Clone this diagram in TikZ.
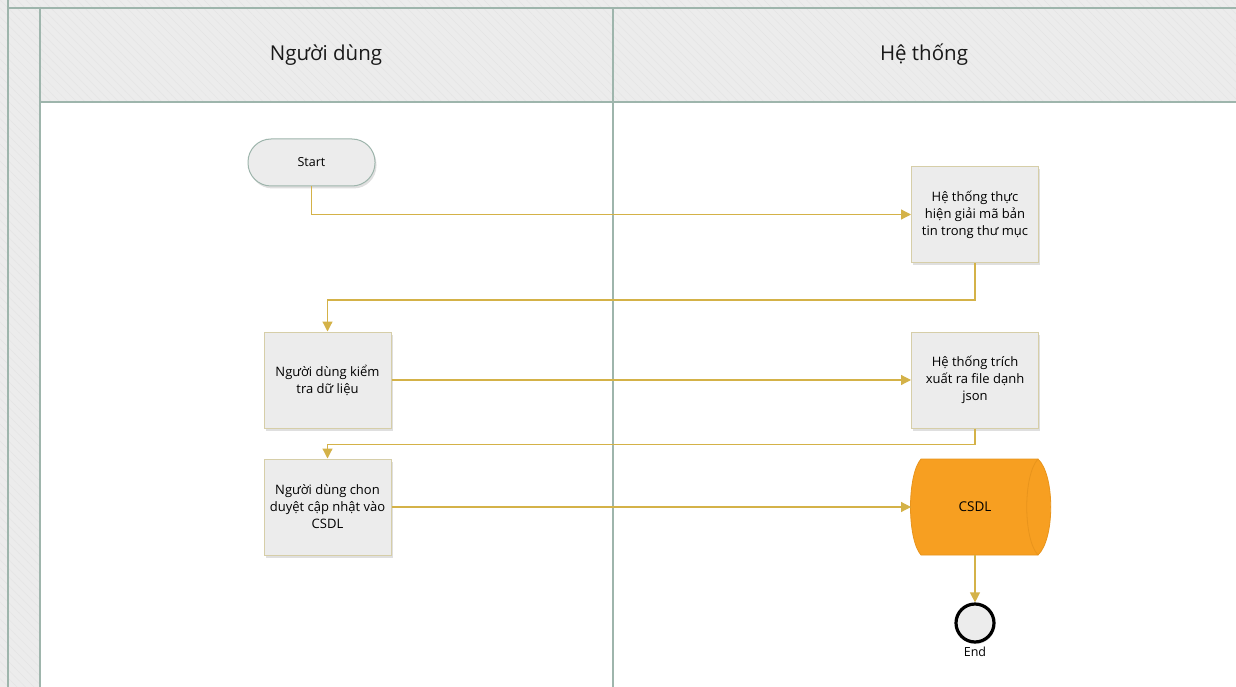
\documentclass[tikz,border=0pt]{standalone}
\usepackage{fontspec}
\setmainfont{Open Sans}
\usetikzlibrary{arrows.meta,shadows,patterns.meta}
\definecolor{poolline}{RGB}{158,181,172}
\definecolor{poolfill}{RGB}{236,236,236}
\definecolor{hatch}{RGB}{228,228,228}
\definecolor{boxfill}{RGB}{236,236,236}
\definecolor{boxline}{RGB}{214,206,168}
\definecolor{flow}{RGB}{212,178,72}
\definecolor{dbfill}{RGB}{247,159,33}
\definecolor{dbline}{RGB}{232,148,28}
\tikzset{
  hatched/.style={preaction={fill=poolfill},
    pattern={Lines[angle=-45,distance=6pt,line width=0.5pt]}, pattern color=hatch},
  lanehead/.style={font=\fontsize{20.5}{24}\selectfont, text=black!90},
  task/.style={rectangle, draw=boxline, line width=1pt, fill=boxfill,
    minimum width=127pt, minimum height=96pt, inner sep=0pt,
    align=center, font=\fontsize{13}{17}\selectfont,
    drop shadow={shadow xshift=1.5pt, shadow yshift=-2.5pt, opacity=0.25}},
  terminal/.style={rectangle, rounded corners=23pt, draw=poolline, line width=1pt,
    fill=boxfill, minimum width=127pt, minimum height=47pt, inner sep=0pt,
    font=\fontsize{12.5}{15}\selectfont,
    drop shadow={shadow xshift=1.5pt, shadow yshift=-2.5pt, opacity=0.25}},
  endevent/.style={circle, draw=black, line width=3.2pt, fill=boxfill,
    minimum size=38pt, inner sep=0pt,
    drop shadow={shadow xshift=1pt, shadow yshift=-2pt, opacity=0.25}},
  flowline/.style={draw=flow, line width=1.2pt,
    -{Triangle[length=10pt,width=10pt]}},
  note/.style={font=\fontsize{12.5}{15}\selectfont, inner sep=0pt}
}
\begin{document}
\begin{tikzpicture}[x=1pt,y=-1pt]
\useasboundingbox (0,0) rectangle (1236,687);

% pool background and lane bodies
\path[hatched] (0,0) rectangle (1236,687);
\fill[white] (40,102) rectangle (1236,687);
\draw[poolline, line width=1.3pt] (8,0) -- (8,687);
\draw[poolline, line width=1.3pt] (8,8) -- (1236,8);
\draw[poolline, line width=1.3pt] (40,8) -- (40,687);
\draw[poolline, line width=1.3pt] (40,102) -- (1236,102);
\draw[poolline, line width=1.3pt] (613,8) -- (613,687);

% lane titles
\node[lanehead] (laneuser) at (326,55) {Người dùng};
\node[lanehead] (lanesys) at (924,55) {Hệ thống};

% flow nodes
\node[terminal] (start) at (311.5,162.5) {Start};
\node[task] (decode) at (975,214.5) {Hệ thống thực\\hiện giải mã bản\\tin trong thư mục};
\node[task] (check) at (327.5,380) {Người dùng kiểm\\tra dữ liệu};
\node[task] (extract) at (975,380) {Hệ thống trích\\xuất ra file dạnh\\json};
\node[task] (approve) at (327.5,507) {Người dùng chon\\duyệt cập nhật vào\\CSDL};

% database (stored data shape)
\node[minimum width=140pt, minimum height=96pt, inner sep=0pt] (db) at (981,507) {};
\fill[dbfill, draw=dbline, line width=0.8pt]
  (921,459) -- (1038,459)
  .. controls (1055,475) and (1055,539) .. (1038,555)
  -- (921,555)
  .. controls (907,539) and (907,475) .. (921,459) -- cycle;
\draw[dbline, line width=0.8pt] (1038,459) .. controls (1023,475) and (1023,539) .. (1038,555);
\node[note, font=\fontsize{13.5}{15}\selectfont] (dblabel) at (975,507) {CSDL};
\coordinate (dbin) at (911,507);
\coordinate (dbout) at (975,555);

\node[endevent] (end) at (975,623) {};
\node[note, anchor=north] (endlabel) at (975,647) {End};

% connectors
\path[flowline] (start.south) |- (decode.west);
\path[flowline] (decode.south) -- ++(0,37) -| (check.north);
\path[flowline] (check.east) -- (extract.west);
\path[flowline] (extract.south) -- ++(0,16) -| (approve.north);
\path[flowline] (approve.east) -- (dbin);
\path[flowline] (dbout) -- (end.north);
\end{tikzpicture}
\end{document}
